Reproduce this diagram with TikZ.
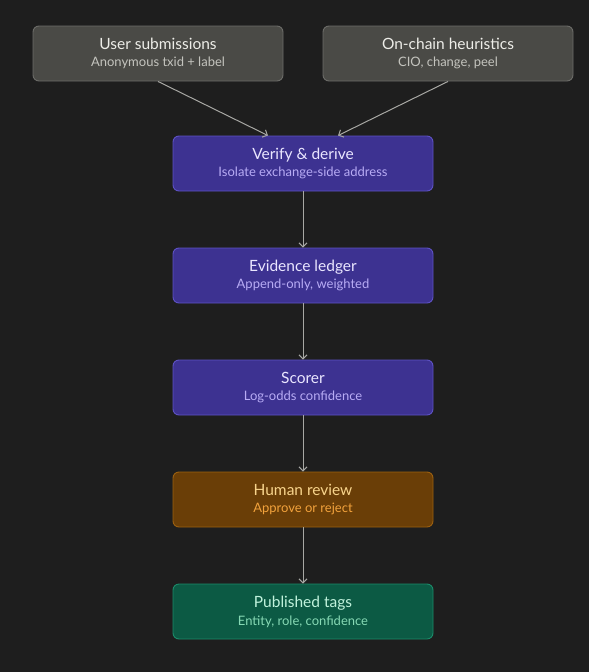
\documentclass[tikz,border=0pt]{standalone}
\usepackage{fontspec}
\setmainfont{Lato}
\usetikzlibrary{arrows.meta}
\definecolor{bg}{HTML}{1E1E1E}
\definecolor{grayfill}{HTML}{4A4A46}
\definecolor{graydraw}{HTML}{6C6C68}
\definecolor{graytitle}{HTML}{EDEDE8}
\definecolor{graysub}{HTML}{C4C4BE}
\definecolor{purfill}{HTML}{3D3291}
\definecolor{purdraw}{HTML}{5E52C4}
\definecolor{purtitle}{HTML}{EAE6FF}
\definecolor{pursub}{HTML}{B8ACF5}
\definecolor{orfill}{HTML}{6A3E07}
\definecolor{ordraw}{HTML}{9C600F}
\definecolor{ortitle}{HTML}{F8D48C}
\definecolor{orsub}{HTML}{F2A23C}
\definecolor{grfill}{HTML}{0C5A44}
\definecolor{grdraw}{HTML}{1B8C6A}
\definecolor{grtitle}{HTML}{C0F2DC}
\definecolor{grsub}{HTML}{86D9B4}
\definecolor{arrowc}{HTML}{A8A8A4}
\tikzset{
  x=1pt, y=-1pt,
  boxbase/.style={rounded corners=6pt, line width=0.9pt, minimum height=55pt, align=center, inner sep=0pt},
  graybox/.style={boxbase, fill=grayfill, draw=graydraw, minimum width=250pt},
  purbox/.style={boxbase, fill=purfill, draw=purdraw, minimum width=260pt},
  orbox/.style={boxbase, fill=orfill, draw=ordraw, minimum width=260pt},
  grbox/.style={boxbase, fill=grfill, draw=grdraw, minimum width=260pt},
  conn/.style={draw=arrowc, line width=1pt, -{Straight Barb[length=4pt,width=8pt]}},
}
\newcommand{\bx}[4]{{\fontsize{15.5}{18}\selectfont\color{#1}#3}\\[4.5pt]{\fontsize{13}{15}\selectfont\color{#2}#4}}
\begin{document}
\begin{tikzpicture}
\fill[bg] (0,0) rectangle (589,672);
\useasboundingbox (0,0) rectangle (589,672);
\node[graybox] (user) at (158,53.5) {\bx{graytitle}{graysub}{User submissions}{Anonymous txid + label}};
\node[graybox] (chain) at (448,53.5) {\bx{graytitle}{graysub}{On-chain heuristics}{CIO, change, peel}};
\node[purbox] (verify) at (303,163.5) {\bx{purtitle}{pursub}{Verify \& derive}{Isolate exchange-side address}};
\node[purbox] (ledger) at (303,275.5) {\bx{purtitle}{pursub}{Evidence ledger}{Append-only, weighted}};
\node[purbox] (scorer) at (303,387.5) {\bx{purtitle}{pursub}{Scorer}{Log-odds confidence}};
\node[orbox] (human) at (303,499.5) {\bx{ortitle}{orsub}{Human review}{Approve or reject}};
\node[grbox] (pub) at (303,611.5) {\bx{grtitle}{grsub}{Published tags}{Entity, role, confidence}};
\draw[conn] (user.south) -- ([xshift=-35pt]verify.north);
\draw[conn] (chain.south) -- ([xshift=35pt]verify.north);
\draw[conn] (verify) -- (ledger);
\draw[conn] (ledger) -- (scorer);
\draw[conn] (scorer) -- (human);
\draw[conn] (human) -- (pub);
\end{tikzpicture}
\end{document}
